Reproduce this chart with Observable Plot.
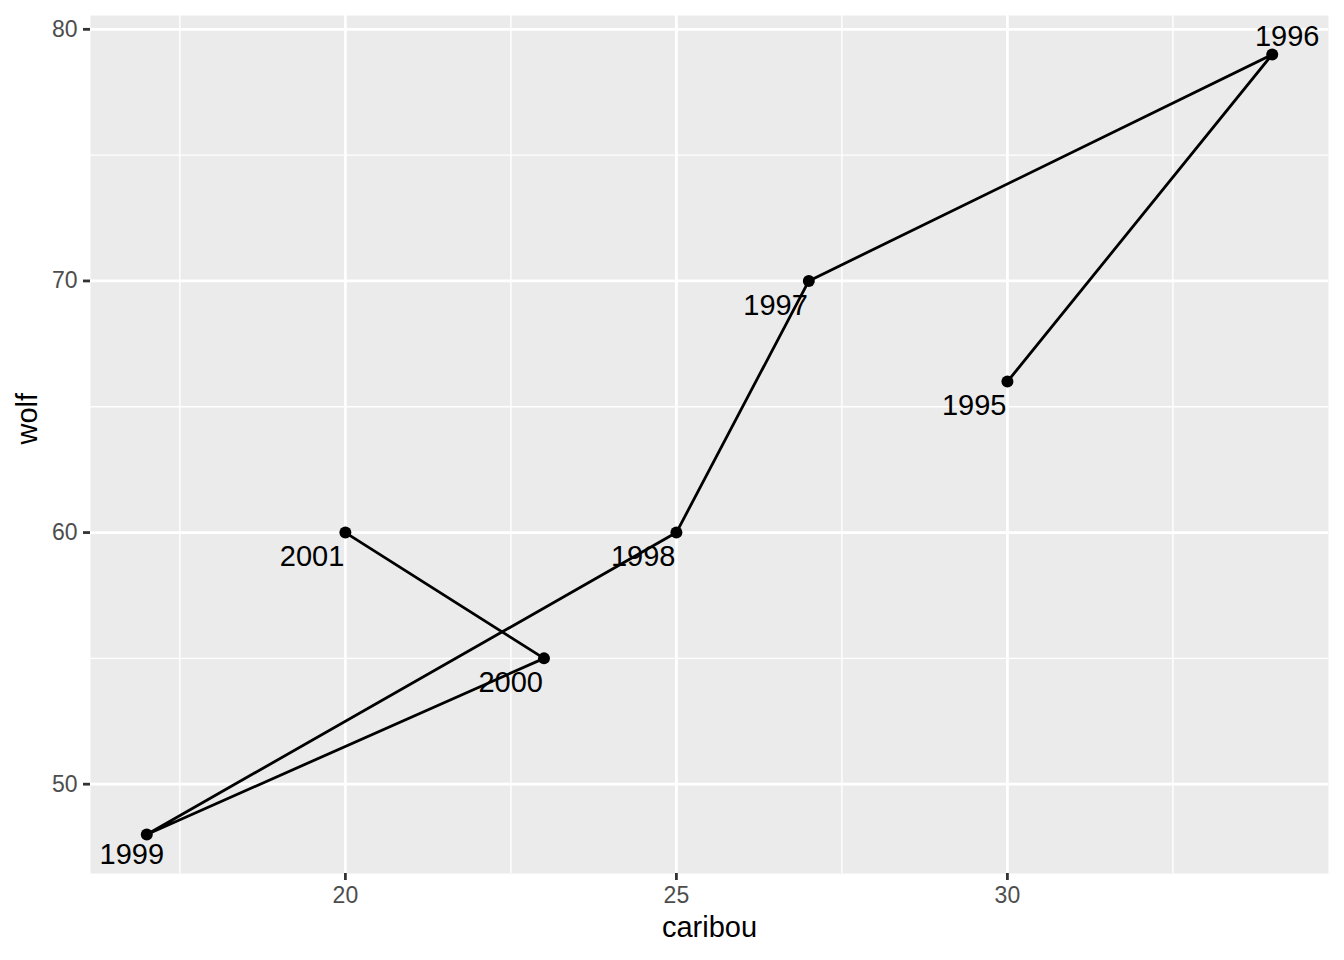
<!DOCTYPE html>
<html>
<head>
<meta charset="utf-8">
<script src="https://cdn.jsdelivr.net/npm/d3@7"></script>
<script src="https://cdn.jsdelivr.net/npm/@observablehq/plot@0.6"></script>
<style>
  html, body { margin: 0; padding: 0; background: #ffffff; }
  #chart { width: 1344px; height: 960px; }
</style>
</head>
<body>
<div id="chart"></div>
<script>
// ---- data ----
const years   = [1995, 1996, 1997, 1998, 1999, 2000, 2001];
const caribou = [30, 34, 27, 25, 17, 23, 20];
const wolf    = [66, 79, 70, 60, 48, 55, 60];

const xMajorTicks = [20, 25, 30];
const xMinorTicks = [17.5, 22.5, 27.5, 32.5];
const yMajorTicks = [50, 60, 70, 80];
const yMinorTicks = [55, 65, 75];

const xTitle = "caribou";
const yTitle = "wolf";

const rows = years.map((yr, i) => ({ year: yr, caribou: caribou[i], wolf: wolf[i] }));

// ggplot-like 5% expansion
function expand(vals) {
  const [lo, hi] = d3.extent(vals);
  const pad = (hi - lo) * 0.05;
  return [lo - pad, hi + pad];
}

const FONT = "'Liberation Sans', Arial, Helvetica, sans-serif";
const isSpecial = d => d.year === 1996 || d.year === 1999;

const chart = Plot.plot({
  width: 1344,
  height: 960,
  marginLeft: 90,
  marginRight: 16,
  marginTop: 15,
  marginBottom: 87,
  style: { fontFamily: FONT, background: "#ffffff", color: "#000000" },
  x: { domain: expand(caribou) },
  y: { domain: expand(wolf) },
  marks: [
    Plot.frame({ fill: "#ebebeb", stroke: "none" }),
    Plot.gridX(xMinorTicks, { stroke: "#ffffff", strokeOpacity: 1, strokeWidth: 1.4 }),
    Plot.gridY(yMinorTicks, { stroke: "#ffffff", strokeOpacity: 1, strokeWidth: 1.4 }),
    Plot.gridX(xMajorTicks, { stroke: "#ffffff", strokeOpacity: 1, strokeWidth: 2.8 }),
    Plot.gridY(yMajorTicks, { stroke: "#ffffff", strokeOpacity: 1, strokeWidth: 2.8 }),
    Plot.axisX(xMajorTicks, {
      tickSize: 7, tickPadding: 6, stroke: "#333333", strokeWidth: 2.8,
      fill: "#4d4d4d", fontSize: 23, label: null
    }),
    Plot.axisY(yMajorTicks, {
      tickSize: 7, tickPadding: 6, stroke: "#333333", strokeWidth: 2.8,
      fill: "#4d4d4d", fontSize: 23, label: null
    }),
    Plot.text([xTitle], {
      text: d => d, frameAnchor: "bottom", lineAnchor: "top", dy: 43,
      fontSize: 29, fill: "#000000"
    }),
    Plot.text([yTitle], {
      text: d => d, frameAnchor: "left", rotate: -90, lineAnchor: "top", dx: -74,
      fontSize: 29, fill: "#000000"
    }),
    Plot.line(rows, { x: "caribou", y: "wolf", stroke: "#000000", strokeWidth: 2.8 }),
    Plot.dot(rows, { x: "caribou", y: "wolf", r: 6, fill: "#000000", stroke: "none" }),
    // regular labels: right-aligned, below the point
    Plot.text(rows.filter(d => !isSpecial(d)), {
      x: "caribou", y: "wolf", text: d => String(d.year),
      textAnchor: "end", lineAnchor: "top", dx: -1, dy: 13,
      fontSize: 29, fill: "#000000"
    }),
    // labels pushed inside the panel
    Plot.text(rows.filter(d => d.year === 1996), {
      x: "caribou", y: "wolf", text: d => String(d.year),
      textAnchor: "middle", lineAnchor: "top", dx: 15, dy: -29,
      fontSize: 29, fill: "#000000"
    }),
    Plot.text(rows.filter(d => d.year === 1999), {
      x: "caribou", y: "wolf", text: d => String(d.year),
      textAnchor: "middle", lineAnchor: "top", dx: -15, dy: 9,
      fontSize: 29, fill: "#000000"
    })
  ]
});

document.getElementById("chart").appendChild(chart);
</script>
</body>
</html>
